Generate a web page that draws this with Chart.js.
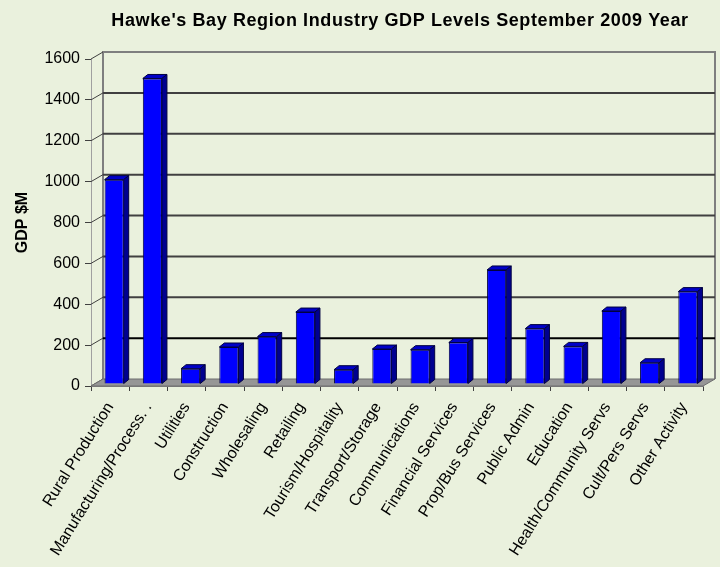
<!DOCTYPE html>
<html>
<head>
<meta charset="utf-8">
<script src="https://cdn.jsdelivr.net/npm/chart.js@4/dist/chart.umd.min.js"></script>
<style>
  html, body { margin: 0; padding: 0; background: #EAF1DD; }
  #wrap { width: 720px; height: 567px; }
</style>
</head>
<body>
<div id="wrap"><canvas id="gdpChart" width="720" height="567"></canvas></div>
<script>
// Hawke's Bay GDP by industry, Sept 2009 year ($M)
const industries = [
    'Rural Production', 'Manufacturing/Process. .', 'Utilities', 'Construction',
    'Wholesaling', 'Retailing', 'Tourism/Hospitality', 'Transport/Storage',
    'Communications', 'Financial Services', 'Prop/Bus Services', 'Public Admin',
    'Education', 'Health/Community Servs', 'Cult/Pers Servs', 'Other Activity'
];
const gdpValues = [1000, 1495, 75, 181, 232, 352, 70, 171, 168, 203, 558, 271, 184, 357, 104, 452];
const yTicks = [0, 200, 400, 600, 800, 1000, 1200, 1400, 1600];
const chartTitle = "Hawke's Bay Region Industry GDP Levels September 2009 Year";

const FONT = "'Liberation Sans', Arial, sans-serif";
const WALL = { dx: 12, dy: -7 };   // back wall offset
const BAR = { dx: 5, dy: -4 };     // bar depth
const BAR_SHIFT = { dx: 4, dy: -2 }; // bars sit a bit behind the front edge

// fake 3D: background, floor and back wall grid
const wallPlugin = {
    id: 'wall',
    beforeDraw(chart) {
        const c = chart.ctx;
        c.save();
        c.fillStyle = '#EAF1DD';
        c.fillRect(0, 0, chart.width, chart.height);
        // title (drawn here so it can sit off-centre like the original)
        c.fillStyle = '#000';
        c.font = 'bold 18px ' + FONT;
        c.letterSpacing = '0.6px';
        c.textAlign = 'center';
        c.textBaseline = 'middle';
        c.fillText(chartTitle, 400, 21);
        c.restore();
    },
    beforeDatasetsDraw(chart) {
        const c = chart.ctx;
        const a = chart.chartArea;
        const y = chart.scales.y;
        c.save();
        // back wall frame
        c.strokeStyle = '#7f7f7f';
        c.lineWidth = 2;
        c.beginPath();
        c.moveTo(a.left + WALL.dx, a.bottom + WALL.dy);
        c.lineTo(a.left + WALL.dx, a.top + WALL.dy);
        c.lineTo(a.right + WALL.dx, a.top + WALL.dy);
        c.lineTo(a.right + WALL.dx, a.bottom + WALL.dy);
        c.stroke();
        // left side wall front edge
        c.strokeStyle = '#a0a0a0';
        c.lineWidth = 1;
        c.beginPath();
        c.moveTo(a.left + 0.5, a.top);
        c.lineTo(a.left + 0.5, a.bottom);
        c.stroke();
        // gridlines on back wall + diagonals on side wall
        yTicks.forEach(v => {
            const py = y.getPixelForValue(v);
            if (v > 0 && v < 1600) {
                c.strokeStyle = v === 200 ? '#000000' : '#404040';
                c.lineWidth = 2;
                c.beginPath();
                c.moveTo(a.left + WALL.dx, py + WALL.dy);
                c.lineTo(a.right + WALL.dx, py + WALL.dy);
                c.stroke();
            }
            c.strokeStyle = '#404040';
            c.lineWidth = 1;
            c.beginPath();
            c.moveTo(a.left, py);
            c.lineTo(a.left + WALL.dx, py + WALL.dy);
            c.stroke();
        });
        // floor
        c.fillStyle = '#969696';
        c.beginPath();
        c.moveTo(a.left, a.bottom);
        c.lineTo(a.right, a.bottom);
        c.lineTo(a.right + WALL.dx, a.bottom + WALL.dy);
        c.lineTo(a.left + WALL.dx, a.bottom + WALL.dy);
        c.closePath();
        c.fill();
        c.strokeStyle = '#6e6e6e';
        c.lineWidth = 1;
        c.stroke();
        c.restore();
        // shift the bars back onto the floor; restored after the faces are drawn
        c.save();
        c.translate(BAR_SHIFT.dx, BAR_SHIFT.dy);
    },
    afterDatasetsDraw(chart) {
        const c = chart.ctx;
        const meta = chart.getDatasetMeta(0);
        c.save();
        c.lineWidth = 1;
        c.strokeStyle = '#000040';
        meta.data.forEach(bar => {
            const p = bar.getProps(['x', 'y', 'base', 'width'], true);
            const l = p.x - p.width / 2, r = p.x + p.width / 2;
            // top face
            c.fillStyle = '#0000C8';
            c.beginPath();
            c.moveTo(l, p.y);
            c.lineTo(r, p.y);
            c.lineTo(r + BAR.dx, p.y + BAR.dy);
            c.lineTo(l + BAR.dx, p.y + BAR.dy);
            c.closePath();
            c.fill();
            c.stroke();
            // side face
            c.fillStyle = '#000090';
            c.beginPath();
            c.moveTo(r, p.y);
            c.lineTo(r + BAR.dx, p.y + BAR.dy);
            c.lineTo(r + BAR.dx, p.base + BAR.dy);
            c.lineTo(r, p.base);
            c.closePath();
            c.fill();
            c.stroke();
        });
        c.restore();
        c.restore();
    }
};

new Chart(document.getElementById('gdpChart'), {
    type: 'bar',
    data: {
        labels: industries,
        datasets: [{
            data: gdpValues,
            backgroundColor: '#0000FF',
            borderColor: '#000040',
            borderWidth: 1,
            barPercentage: 0.5,
            categoryPercentage: 1
        }]
    },
    options: {
        responsive: false,
        animation: false,
        layout: { padding: { left: 0, right: 17, top: 59, bottom: 0 } },
        plugins: {
            legend: { display: false },
            tooltip: { enabled: false },
            title: { display: false }
        },
        scales: {
            x: {
                offset: true,
                grid: {
                    display: true,
                    offset: true,
                    drawOnChartArea: false,
                    tickLength: 5,
                    color: '#404040'
                },
                border: { display: true, color: '#808080', width: 1 },
                ticks: {
                    color: '#000',
                    font: { family: FONT, size: 16 },
                    minRotation: 58,
                    maxRotation: 58,
                    autoSkip: false,
                    padding: 8
                },
                afterFit(scale) { scale.height = 567 - 386; }
            },
            y: {
                min: 0,
                max: 1600,
                afterBuildTicks(scale) { scale.ticks = yTicks.map(v => ({ value: v })); },
                grid: {
                    display: true,
                    drawOnChartArea: false,
                    tickLength: 6,
                    color: '#404040'
                },
                border: { display: false },
                ticks: {
                    color: '#000',
                    font: { family: FONT, size: 16 },
                    padding: 5,
                    callback: v => String(v)
                },
                title: {
                    display: true,
                    text: 'GDP $M',
                    color: '#000',
                    font: { family: FONT, size: 16, weight: 'bold' },
                    padding: { top: 13, bottom: 4 }
                },
                afterFit(scale) { scale.width = 91; }
            }
        }
    },
    plugins: [wallPlugin]
});
</script>
</body>
</html>
